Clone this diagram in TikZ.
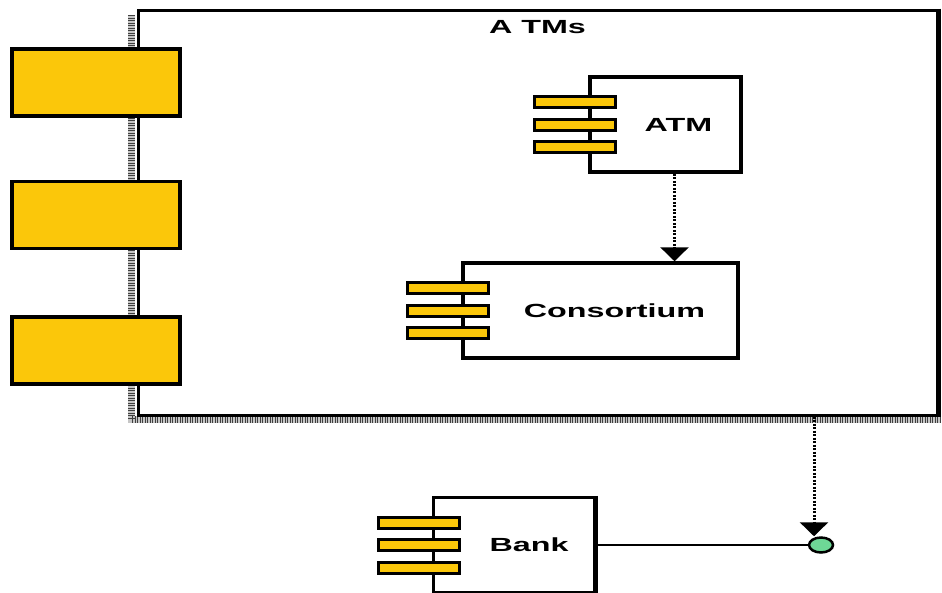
\documentclass[tikz,border=0pt]{standalone}
\usepackage{fontspec}
\newfontfamily\lblfont[FakeStretch=1.7]{Liberation Sans}
\usetikzlibrary{arrows.meta,shapes.geometric}
\definecolor{tabyellow}{RGB}{251,199,10}
\definecolor{ifgreen}{RGB}{110,215,150}
\tikzset{
  lbl/.style={font=\lblfont\bfseries\fontsize{19}{19}\selectfont, inner sep=0pt},
  comp/.style={draw, line width=3.5pt, fill=white, minimum width=#1, minimum height=95pt, inner sep=0pt},
  tab/.style={draw, line width=3pt, fill=tabyellow, minimum width=81pt, minimum height=11pt, inner sep=0pt},
  bigtab/.style={draw, line width=3.5pt, fill=tabyellow, minimum width=168pt, minimum height=67pt, inner sep=0pt},
  dep/.style={line width=3pt, dash pattern=on 2pt off 1.5pt, -{Triangle[width=28pt,length=14pt]}},
  band/.style={line width=7pt, gray!45, postaction={draw, black!75, line width=7pt, dash pattern=on 1pt off 1.5pt}}
}
% three yellow tabs on the left side of a component
\newcommand{\comptabs}[1]{%
  \foreach \dy in {-22.5,0,22.5}
    \node[tab] at ([shift={(-13pt,\dy pt)}]#1.west) {};}

\begin{document}
\begin{tikzpicture}[x=1pt,y=-1pt]
  \useasboundingbox (0,0) rectangle (942,592);

  % package frame with its shadow
  \draw[band] (131,15) -- (131,419) -- (940,419);
  \node[draw, line width=3pt, fill=white, minimum width=799pt, minimum height=405pt,
        inner sep=0pt] (atms) at (537.5,212.5) {};
  \node[lbl, anchor=north] (title) at ([yshift=-12pt]atms.north) {A TMs};
  \draw[line width=5pt] (atms.north east) -- (atms.south east);

  % ports on the frame
  \node[bigtab] (port1) at (96,82.5) {};
  \node[bigtab] (port2) at (96,215) {};
  \node[bigtab] (port3) at (96,350.5) {};

  % components
  \node[comp=151pt, label={[lbl, xshift=13pt]center:ATM}] (atm) at (665.5,124.5) {};
  \comptabs{atm}
  \node[comp=275pt, label={[lbl, xshift=14pt]center:Consortium}] (cons) at (600.5,310.5) {};
  \comptabs{cons}
  \node[comp=161pt, label={[lbl, xshift=15pt]center:Bank}] (bank) at (514,545) {};
  \comptabs{bank}
  \draw[line width=4pt] (bank.north east) -- (bank.south east);

  % interface
  \node[ellipse, draw, line width=2.5pt, fill=ifgreen, minimum width=24pt, minimum height=15pt, inner sep=0pt] (iface) at (821,545) {};
  \draw[line width=2.5pt] (bank.east) -- (iface.west);

  % dependencies
  \draw[dep] ([xshift=9pt]atm.south) -- ([xshift=9pt]atm.south |- cons.north);
  \coordinate (tip) at ([xshift=-7pt]iface.north);
  \draw[dep] (tip |- atms.south) -- (tip);
\end{tikzpicture}
\end{document}
